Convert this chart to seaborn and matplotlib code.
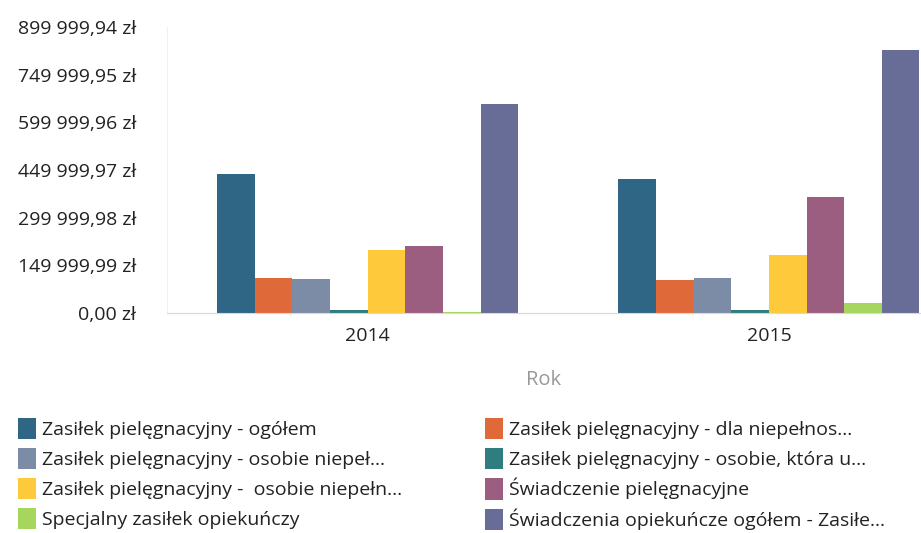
import numpy as np
import pandas as pd
import matplotlib
matplotlib.use("Agg")
import matplotlib.pyplot as plt
import seaborn as sns
from matplotlib.patches import Patch
from matplotlib.ticker import FuncFormatter

sns.set_style("white")
plt.rcParams['font.family'] = ['Open Sans', 'DejaVu Sans']

years = ["2014", "2015"]
series = [
    "Zasiłek pielęgnacyjny - ogółem",
    "Zasiłek pielęgnacyjny - dla niepełnos...",
    "Zasiłek pielęgnacyjny - osobie niepeł...",
    "Zasiłek pielęgnacyjny - osobie, która u...",
    "Zasiłek pielęgnacyjny -  osobie niepełn...",
    "Świadczenie pielęgnacyjne",
    "Specjalny zasiłek opiekuńczy",
    "Świadczenia opiekuńcze ogółem - Zasiłe...",
]
values_2014 = [437000, 110000, 107000, 10000, 198000, 211000, 2000, 657000]
values_2015 = [421000, 104000, 110000, 9000, 183000, 365000, 31000, 827000]
colors = ["#2f6585", "#e0693a", "#7d8ca6", "#2f7d7e",
          "#ffc93c", "#9c5e80", "#a6d65e", "#686d98"]
yticks = [0, 149999.99, 299999.98, 449999.97, 599999.96, 749999.95, 899999.94]

df = pd.DataFrame({
    "Rok": [y for y in years for _ in series],
    "series": series * 2,
    "value": values_2014 + values_2015,
})

fig = plt.figure(figsize=(9.21, 5.33), dpi=100)
ax = fig.add_axes([0.181, 0.413, 0.819, 0.536])

sns.barplot(data=df, x="Rok", y="value", hue="series", hue_order=series,
            palette=colors, width=0.75, saturation=1, ax=ax,
            legend=False)
for p in ax.patches:
    p.set_edgecolor("none")

ax.set_xlim(-0.501, 1.379)
ax.set_ylim(0, 899999.94)
ax.set_yticks(yticks)
ax.yaxis.set_major_formatter(FuncFormatter(
    lambda v, p: f"{v:,.2f}".replace(",", " ").replace(".", ",") + " zł"))
ax.tick_params(axis="both", length=0, labelsize=14, colors="#222222")
ax.tick_params(axis="y", pad=22)
ax.tick_params(axis="x", pad=10)
ax.set_ylabel("")
ax.set_xlabel("Rok", fontsize=14.5, color="#999999", labelpad=18)

for s in ["top", "right"]:
    ax.spines[s].set_visible(False)
ax.spines["left"].set_color("#f0f0f0")
ax.spines["bottom"].set_color("#d8d8d8")

handles = [Patch(facecolor=c, edgecolor="none") for c in colors]
order = [0, 2, 4, 6, 1, 3, 5, 7]
fig.legend([handles[i] for i in order], [series[i] for i in order],
           loc="lower left", bbox_to_anchor=(0.001, -0.027), ncol=2,
           frameon=False, fontsize=14, handlelength=0.9, handleheight=1.3,
           handletextpad=0.3, columnspacing=4.3, labelspacing=0.45,
           labelcolor="#222222")

fig.savefig("out.png", dpi=100)
